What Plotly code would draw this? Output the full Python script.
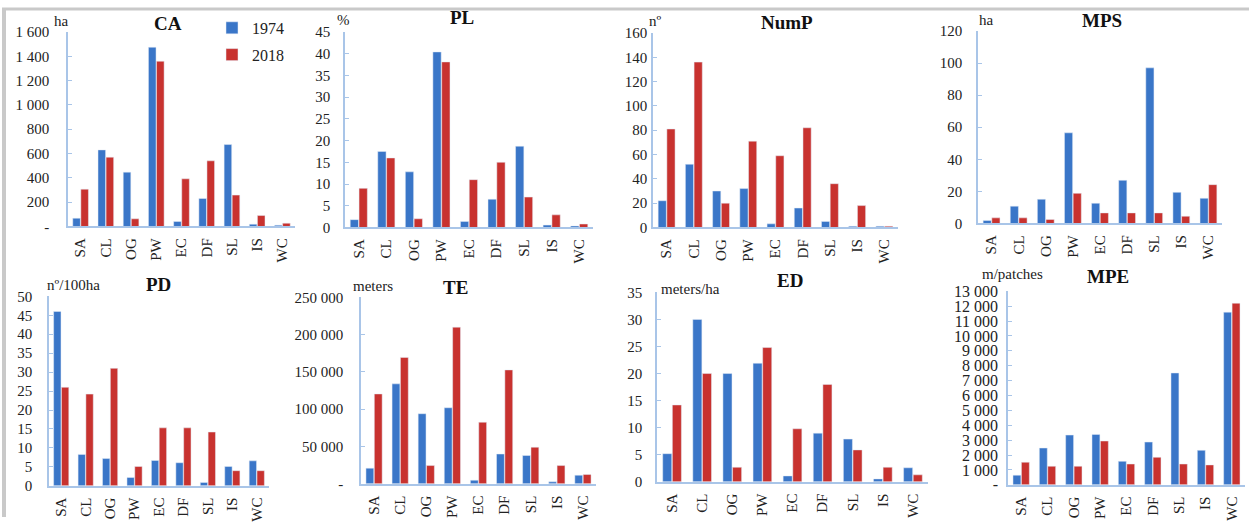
import plotly.graph_objects as go

W, H = 1249, 526

categories = ["SA", "CL", "OG", "PW", "EC", "DF", "SL", "IS", "WC"]

ca_1974 = [68, 630, 447, 1474, 41, 230, 674, 19, 11]
ca_2018 = [307, 570, 63, 1359, 392, 540, 258, 90, 27]

pl_1974 = [1.8, 17.5, 12.8, 40.4, 1.4, 6.5, 18.7, 0.55, 0.35]
pl_2018 = [9.0, 16.0, 2.0, 38.1, 11.0, 15.0, 7.0, 2.9, 0.8]

nump_1974 = [22, 52, 30, 32, 3, 16, 5, 1, 1]
nump_2018 = [81, 136, 20, 71, 59, 82, 36, 18, 1]

mps_1974 = [1.9, 10.8, 15.1, 56.5, 12.6, 26.9, 97, 19.4, 15.7]
mps_2018 = [3.5, 3.5, 2.5, 18.8, 6.6, 6.6, 6.6, 4.5, 24.2]

pd_1974 = [46, 8.3, 7.2, 2.2, 6.7, 6.1, 0.9, 5.1, 6.6]
pd_2018 = [26, 24.2, 31, 5.1, 15.3, 15.3, 14.2, 4.0, 4.0]

te_1974 = [21000, 134000, 94000, 102000, 4900, 40000, 38000, 2700, 11600]
te_2018 = [120500, 169500, 24500, 210000, 82600, 152700, 49100, 24500, 12500]

ed_1974 = [5.2, 30.0, 20.0, 21.9, 1.1, 9.0, 7.9, 0.55, 2.6]
ed_2018 = [14.2, 20.0, 2.7, 24.8, 9.8, 18.0, 5.9, 2.7, 1.3]

mpe_1974 = [650, 2475, 3345, 3390, 1580, 2875, 7515, 2320, 11600]
mpe_2018 = [1520, 1250, 1250, 2945, 1400, 1850, 1400, 1340, 12200]

ca_ticks = [0, 200, 400, 600, 800, 1000, 1200, 1400, 1600]
ca_ticktext = ["-", "200", "400", "600", "800", "1 000", "1 200", "1 400", "1 600"]
pl_ticks = [0, 5, 10, 15, 20, 25, 30, 35, 40, 45]
nump_ticks = [0, 20, 40, 60, 80, 100, 120, 140, 160]
mps_ticks = [0, 20, 40, 60, 80, 100, 120]
pd_ticks = [0, 5, 10, 15, 20, 25, 30, 35, 40, 45, 50]
te_ticks = [0, 50000, 100000, 150000, 200000, 250000]
te_ticktext = ["-", "50 000", "100 000", "150 000", "200 000", "250 000"]
ed_ticks = [0, 5, 10, 15, 20, 25, 30, 35]
mpe_ticks = [0, 1000, 2000, 3000, 4000, 5000, 6000, 7000, 8000, 9000, 10000, 11000, 12000, 13000]
mpe_ticktext = ["-", "1 000", "2 000", "3 000", "4 000", "5 000", "6 000", "7 000",
                "8 000", "9 000", "10 000", "11 000", "12 000", "13 000"]

series_names = ["1974", "2018"]

BLUE = "#3a76c8"
RED = "#c8322f"
AXIS = "#a9c5e8"
FONT = "'Liberation Serif', 'Times New Roman', serif"


def py(y):
    # vertical pixel mapping (compensates the vertical placement seen in the photographed page)
    return (y - 8) / 0.97


# panel spec: title, unit, values 1974, values 2018, ticks, ticktext, pixel box (x0,x1,ytop,ybottom), standoff, tick font size
panels = [
    ("CA", "ha", ca_1974, ca_2018, ca_ticks, ca_ticktext, (68, 295, 32, 227), 14, 15),
    ("PL", "%", pl_1974, pl_2018, pl_ticks, None, (345, 593, 32, 228), 10, 15),
    ("NumP", "nº", nump_1974, nump_2018, nump_ticks, None, (653, 898, 33, 228), 1, 15),
    ("MPS", "ha", mps_1974, mps_2018, mps_ticks, None, (978, 1222, 31, 224), 11, 15),
    ("PD", "nº/100ha", pd_1974, pd_2018, pd_ticks, None, (49, 269, 297, 487), 12, 15),
    ("TE", "meters", te_1974, te_2018, te_ticks, te_ticktext, (361, 596, 298, 485), 13, 15),
    ("ED", "meters/ha", ed_1974, ed_2018, ed_ticks, None, (657, 928, 293, 483), 10, 15),
    ("MPE", "m/patches", mpe_1974, mpe_2018, mpe_ticks, mpe_ticktext, (1008, 1245, 292, 486), 5, 16),
]

# title and unit-label pixel positions (centre x, centre y)
title_pos = [(168, 24), (462, 18), (787, 23), (1102, 21), (158, 285), (455, 288), (790, 281), (1108, 277)]
unit_pos = [(61, 21), (343, 20), (655, 21), (986, 20), (73, 286), (373, 287), (690, 290), (1012, 275)]

fig = go.Figure()
layout = {}
annotations = []

for i, (title, unit, v74, v18, ticks, ticktext, box, standoff, tfs) in enumerate(panels):
    n = i + 1
    xa = "x" if n == 1 else f"x{n}"
    ya = "y" if n == 1 else f"y{n}"
    x0, x1, yt, yb = box
    fig.add_trace(go.Bar(x=categories, y=v74, name=series_names[0], marker_color=BLUE,
                         xaxis=xa, yaxis=ya, showlegend=(n == 1), legendgroup="a"))
    fig.add_trace(go.Bar(x=categories, y=v18, name=series_names[1], marker_color=RED,
                         xaxis=xa, yaxis=ya, showlegend=(n == 1), legendgroup="b"))
    xk = "xaxis" if n == 1 else f"xaxis{n}"
    yk = "yaxis" if n == 1 else f"yaxis{n}"
    layout[xk] = dict(
        domain=[x0 / W, x1 / W], anchor=ya, type="category", range=[-0.5, 8.5],
        showline=True, linecolor=AXIS, linewidth=1.5, ticks="", tickangle=-90,
        tickfont=dict(family=FONT, size=15, color="#222"), showgrid=False,
        ticklabelstandoff=4,
    )
    layout[yk] = dict(
        domain=[1 - py(yb) / H, 1 - py(yt) / H], anchor=xa, range=[0, ticks[-1]],
        tickvals=ticks, ticktext=ticktext if ticktext else [str(t) for t in ticks],
        showline=True, linecolor=AXIS, linewidth=1.5, ticks="inside", ticklen=4,
        tickcolor=AXIS, showgrid=False, zeroline=False,
        tickfont=dict(family=FONT, size=tfs, color="#222"),
        ticklabelstandoff=standoff,
    )
    tx, ty = title_pos[i]
    annotations.append(dict(text=f"<b>{title}</b>", x=tx / W, y=1 - py(ty) / H, xref="paper", yref="paper",
                            showarrow=False, xanchor="center", yanchor="middle",
                            font=dict(family=FONT, size=19, color="#111")))
    ux, uy = unit_pos[i]
    annotations.append(dict(text=unit, x=ux / W, y=1 - py(uy) / H, xref="paper", yref="paper",
                            showarrow=False, xanchor="center", yanchor="middle",
                            font=dict(family=FONT, size=15, color="#222")))

shapes = [
    dict(type="line", xref="paper", yref="paper", x0=4 / W, x1=4 / W, y0=0, y1=1,
         line=dict(color="#c9c9c9", width=4)),
    dict(type="line", xref="paper", yref="paper", x0=2 / W, x1=1, y0=1 - 1 / H, y1=1 - 1 / H,
         line=dict(color="#c9c9c9", width=3)),
]

fig.update_layout(
    width=W, height=H, margin=dict(l=0, r=0, t=0, b=0),
    paper_bgcolor="white", plot_bgcolor="white",
    barmode="group", bargap=0.36, bargroupgap=0.06,
    font=dict(family=FONT, color="#222"),
    showlegend=True,
    legend=dict(x=212 / W, y=1 - 3 / H, xanchor="left", yanchor="top",
                bgcolor="rgba(0,0,0,0)", tracegroupgap=3, itemwidth=30,
                font=dict(family=FONT, size=16, color="#222")),
    annotations=annotations, shapes=shapes,
    **layout,
)

page_fix = (
    "var s=document.createElement('style');"
    "s.textContent='html,body{margin:0!important;padding:0!important;overflow:hidden!important;}';"
    "document.head.appendChild(s);"
)

fig.write_html("out.html", post_script=page_fix, config={"displayModeBar": False})
